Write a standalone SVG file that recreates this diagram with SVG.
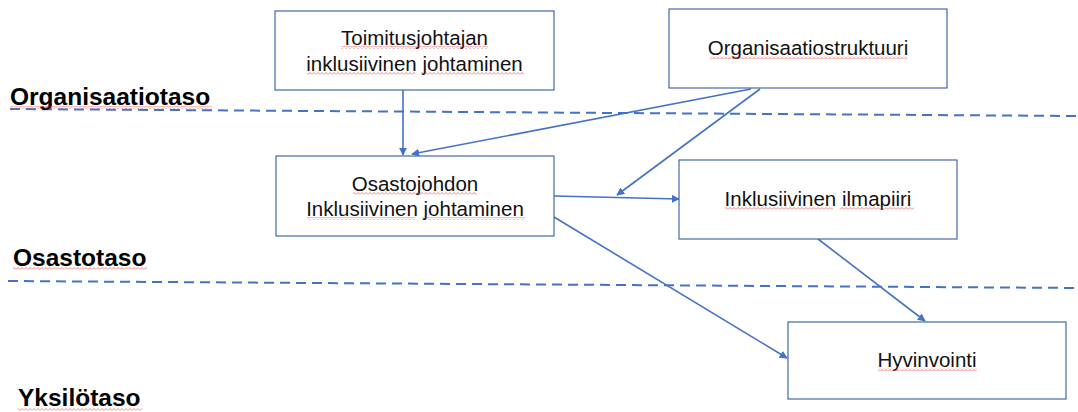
<svg xmlns="http://www.w3.org/2000/svg" width="1078" height="412" viewBox="0 0 1078 412">
<style>
.box{fill:#fff;stroke:#4468a8;stroke-width:1.2}
.t{font-family:"Liberation Sans",Arial,sans-serif;font-size:20.5px;fill:#111;text-anchor:middle}
.lvl{font-family:"Liberation Sans",Arial,sans-serif;font-size:24.5px;font-weight:bold;fill:#000}
.dash{stroke:#4472c4;stroke-width:2;stroke-dasharray:10 6;fill:none}
.c{stroke:#4472c4;stroke-width:1.6;fill:none;marker-end:url(#ah)}
.sq{fill:url(#zig)}
</style>
<defs>
<marker id="ah" viewBox="0 0 10 10" refX="9" refY="5" markerWidth="5" markerHeight="5" orient="auto" markerUnits="strokeWidth">
<path d="M0,0 L10,5 L0,10 z" fill="#4472c4"/>
</marker>
<pattern id="zig" width="4" height="3" patternUnits="userSpaceOnUse">
<path d="M0,2.5 L2,0.5 L4,2.5" fill="none" stroke="#e84848" stroke-width="0.7"/>
</pattern>
</defs>
<g id="levels">
<line class="dash" x1="10" y1="109" x2="1078" y2="116"/>
<line class="dash" x1="8" y1="281" x2="1078" y2="288"/>
<text class="lvl" x="10" y="105">Organisaatiotaso</text>
<rect class="sq" x="10" y="106" width="202" height="3"/>
<text class="lvl" x="13" y="266">Osastotaso</text>
<rect class="sq" x="13" y="267" width="134" height="3"/>
<text class="lvl" x="18" y="406">Yksilötaso</text>
<rect class="sq" x="18" y="408" width="124" height="3"/>
</g>
<g id="connectors">
<line class="c" x1="403" y1="90" x2="403" y2="155"/>
<line class="c" x1="751" y1="89" x2="412" y2="154"/>
<line class="c" x1="760" y1="89" x2="617" y2="195"/>
<line class="c" x1="554" y1="196" x2="679" y2="199"/>
<line class="c" x1="554" y1="217" x2="787" y2="358"/>
<line class="c" x1="818" y1="239" x2="925" y2="321"/>
</g>
<g id="n1">
<rect class="box" x="275" y="11" width="279" height="79"/>
<text class="t" x="414.5" y="45">Toimitusjohtajan</text>
<text class="t" x="414.5" y="71">inklusiivinen johtaminen</text>
<rect class="sq" x="341" y="46" width="147" height="3"/>
<rect class="sq" x="307" y="72" width="108" height="3"/>
<rect class="sq" x="421" y="72" width="103" height="3"/>
</g>
<g id="n2">
<rect class="box" x="669" y="9" width="278" height="79"/>
<text class="t" x="808" y="55">Organisaatiostruktuuri</text>
<rect class="sq" x="710" y="56" width="197" height="3"/>
</g>
<g id="n3">
<rect class="box" x="276" y="156" width="278" height="80"/>
<text class="t" x="415" y="191">Osastojohdon</text>
<text class="t" x="415" y="216">Inklusiivinen johtaminen</text>
<rect class="sq" x="353" y="192" width="124" height="3"/>
<rect class="sq" x="307" y="217" width="108" height="3"/>
<rect class="sq" x="422" y="217" width="103" height="3"/>
</g>
<g id="n4">
<rect class="box" x="679" y="160" width="278" height="79"/>
<text class="t" x="818" y="206">Inklusiivinen ilmapiiri</text>
<rect class="sq" x="725" y="207" width="108" height="3"/>
<rect class="sq" x="840" y="207" width="74" height="3"/>
</g>
<g id="n5">
<rect class="box" x="788" y="322" width="278" height="77"/>
<text class="t" x="927" y="367">Hyvinvointi</text>
<rect class="sq" x="878" y="368" width="99" height="3"/>
</g>
</svg>
